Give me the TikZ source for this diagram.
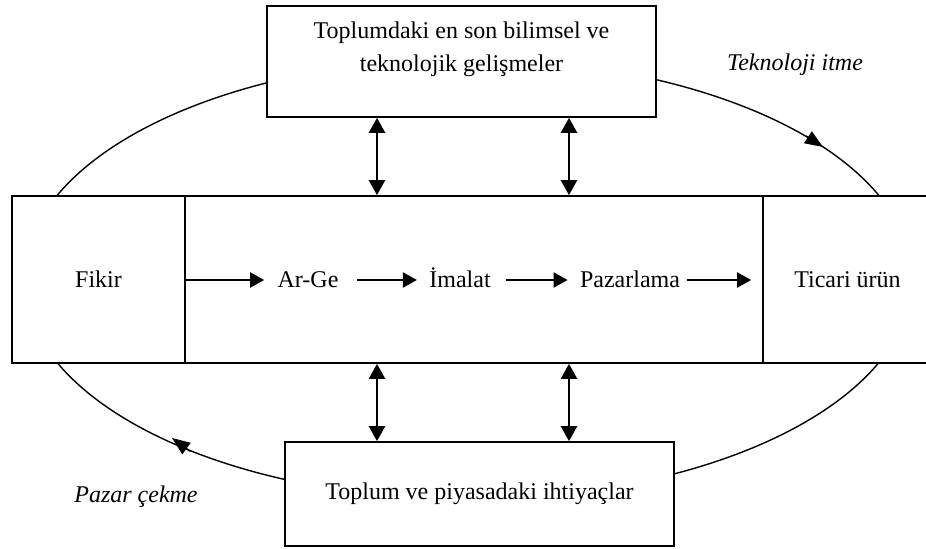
\documentclass[tikz,border=0pt]{standalone}
\usepackage{fontspec}
\setmainfont{Liberation Serif}
\usetikzlibrary{arrows.meta}
\begin{document}
\begin{tikzpicture}[x=0.5pt,y=-0.5pt,
  font=\fontsize{12}{16.5}\selectfont,
  box/.style={draw, line width=0.85pt, fill=white, inner sep=0pt},
  lbl/.style={inner sep=0pt},
  steptext/.style={inner sep=0pt, text height=8.5pt, text depth=0.5pt},
  flow/.style={line width=1pt, -{Triangle[length=7pt,width=7.5pt]}},
  dbl/.style={line width=1.2pt, {Triangle[length=7.5pt,width=8pt]}-{Triangle[length=7.5pt,width=8pt]}},
  loopline/.style={line width=0.7pt},
  looptip/.style={line width=0.7pt, -{Triangle[length=9pt,width=7pt]}}]
\useasboundingbox (0,0) rectangle (926,549);
% cycle ellipse (behind boxes)
\draw[loopline] (468,279) ellipse [x radius=222pt, y radius=110pt];
\coordinate (tp1) at (806.0,136.0);
\coordinate (tp2) at (823,147);
\coordinate (bp1) at (190.5,451.5);
\coordinate (bp2) at (172,438);
\draw[looptip] (tp1) -- (tp2);
\draw[looptip] (bp1) -- (bp2);
% boxes
\node[box, minimum width=194.5pt, minimum height=55.5pt] (top) at (461.5,61.5) {};
\node[lbl, align=center] (toptext) at (461.5,49) {Toplumdaki en son bilimsel ve\\teknolojik gelişmeler};
\node[box, minimum width=194.5pt, minimum height=52pt] (bottom) at (479.5,494) {Toplum ve piyasadaki ihtiyaçlar};
\node[box, minimum width=86.5pt, minimum height=83.5pt] (fikir) at (98.5,279.5) {Fikir};
\node[box, minimum width=289pt, minimum height=83.5pt] (mid) at (474,279.5) {};
\node[box, minimum width=84.5pt, minimum height=83.5pt] (ticari) at (847.5,279.5) {Ticari ürün};
% flow texts
\node[steptext] (arge) at (308,280) {Ar-Ge};
\node[steptext] (imalat) at (460,280) {İmalat};
\node[steptext] (pazar) at (630,280) {Pazarlama};
\draw[flow, shorten >=6.5pt] (fikir.east |- arge.west) -- (arge.west);
\draw[flow, shorten <=9pt, shorten >=6pt] (arge.east) -- (imalat.west);
\draw[flow, shorten <=7.5pt, shorten >=6pt] (imalat.east) -- (pazar.west);
\draw[flow, shorten <=3.5pt, shorten >=5.5pt] (pazar.east) -- (ticari.west |- pazar.east);
% double arrows
\coordinate (c1) at (377,0);
\coordinate (c2) at (569,0);
\draw[dbl] (c1 |- top.south) -- (c1 |- mid.north);
\draw[dbl] (c2 |- top.south) -- (c2 |- mid.north);
\draw[dbl] (c1 |- mid.south) -- (c1 |- bottom.north);
\draw[dbl] (c2 |- mid.south) -- (c2 |- bottom.north);
% labels
\node[lbl] (push) at (795,65) {\itshape Teknoloji itme};
\node[lbl] (pull) at (136,497) {\itshape Pazar çekme};
\end{tikzpicture}
\end{document}
